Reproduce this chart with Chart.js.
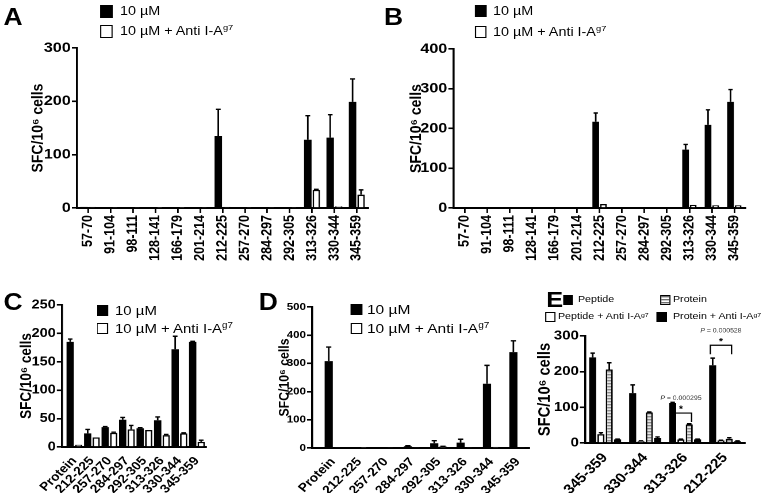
<!DOCTYPE html>
<html>
<head>
<meta charset="utf-8">
<script src="https://cdn.jsdelivr.net/npm/chart.js@4.4.0/dist/chart.umd.min.js"></script>
<style>
  body { margin: 0; background: #fff; overflow: hidden; }
  /* the source figure is stretched horizontally, so the whole layout is drawn narrow and widened */
  #fig { position: relative; width: 666px; height: 493px; transform: scaleX(1.15); transform-origin: 0 0;
         font-family: "Liberation Sans", Arial, sans-serif; color: #000; }
  .panel { position: absolute; }
  .letter { position: absolute; font-weight: bold; font-size: 23px; line-height: 1; }
  .sw { position: absolute; box-sizing: border-box; border: 1.4px solid #000; }
  .lt { position: absolute; white-space: nowrap; line-height: 1; }
  .lt sup { font-size: 0.65em; position: relative; top: -0.1em; vertical-align: top; line-height: 1; }
</style>
</head>
<body>
<div id="fig">
  <div class="letter" style="left:3px;top:6px">A</div>
  <div class="letter" style="left:334px;top:6px">B</div>
  <div class="letter" style="left:3px;top:291px">C</div>
  <div class="letter" style="left:225px;top:291px">D</div>
  <div class="letter" style="left:475px;top:289px;font-size:22px">E</div>
  <div class="panel" style="left:0;top:0"><canvas id="chartA" width="330" height="268"></canvas></div>
  <div class="panel" style="left:330.4px;top:0"><canvas id="chartB" width="335" height="268"></canvas></div>
  <div class="panel" style="left:0;top:275px"><canvas id="chartC" width="228" height="218"></canvas></div>
  <div class="panel" style="left:227.8px;top:275px"><canvas id="chartD" width="235" height="218"></canvas></div>
  <div class="panel" style="left:460.9px;top:275px"><canvas id="chartE" width="205" height="218"></canvas></div>
</div>
<script>
const FONT = '"Liberation Sans", Arial, sans-serif';

// peptide screen, panels A and B
const peptideLabels = ['57-70', '91-104', '98-111', '128-141', '166-179', '201-214', '212-225',
                       '257-270', '284-297', '292-305', '313-326', '330-344', '345-359'];
const seriesNames = ['10 µM', '10 µM + Anti I-A^g7'];

const aMean    = [2, 0.5, 1, 0.5, 1, 0.5, 135, 1, 1, 1, 128, 132, 199];
const aMeanErr = [0, 0, 0, 0, 0, 0, 50, 0, 0, 0, 45, 43, 43];
const aAnti    = [2, 1, 1, 0.5, 0.5, 1, 2, 1, 1, 1, 34, 3, 25];
const aAntiErr = [0, 0, 0, 0, 0, 0, 0, 0, 0, 0, 1, 0, 9];

const bMean    = [0, 0, 0, 0, 0, 0, 217, 0, 0.8, 0, 147, 209, 267];
const bMeanErr = [0, 0, 0, 0, 0, 0, 22, 0, 0, 0, 13, 38, 31];
const bAnti    = [0, 0, 0, 0, 0, 0, 10, 0, 0, 0, 8, 7, 7];
const bAntiErr = [0, 0, 0, 0, 0, 0, 0, 0, 0, 0, 0, 0, 0];

// protein vs peptides, panels C and D
const proteinLabels = ['Protein', '212-225', '257-270', '284-297', '292-305', '313-326', '330-344', '345-359'];

const cMean    = [185, 24, 35, 48, 33, 47, 172, 185];
const cMeanErr = [5, 7, 1, 4, 1, 6, 23, 1];
const cAnti    = [4, 17, 25, 31, 30, 21, 24, 9];
const cAntiErr = [0, 0, 1, 7, 0, 1, 1, 3];

const dMean    = [308, 3, 3, 6, 17, 19, 228, 340];
const dMeanErr = [50, 0, 0, 2, 9, 12, 65, 40];
const dAnti    = [2, 1, 3, 2, 5, 2, 4, 3];
const dAntiErr = [0, 0, 0, 0, 1, 0, 0, 0];

// panel E
const eLabels = ['345-359', '330-344', '313-326', '212-225'];
const eNames = ['Peptide', 'Peptide + Anti I-A^g7', 'Protein', 'Protein + Anti I-A^g7'];
const ePeptide     = [240, 140, 112, 218];
const ePeptideErr  = [12, 23, 2, 20];
const ePepAnti     = [25, 5, 10, 7];
const ePepAntiErr  = [4, 1, 1, 1];
const eProtein     = [206, 86, 52, 12];
const eProteinErr  = [19, 1, 2, 3];
const eProtAnti    = [10, 14, 10, 5];
const eProtAntiErr = [1, 3, 1, 1];
const eSigCats   = [2, 3];
const eSigLevels = [84, 274];
const eSigText   = ['0.000295', '0.000528'];

Chart.defaults.font.family = FONT;
Chart.defaults.color = '#000';

function stripes() {
  const c = document.createElement('canvas');
  c.width = 4; c.height = 3;
  const x = c.getContext('2d');
  x.fillStyle = '#fff'; x.fillRect(0, 0, 4, 3);
  x.fillStyle = '#6e6e6e'; x.fillRect(0, 0, 4, 1);
  x.fillStyle = '#c8c8c8'; x.fillRect(0, 1, 4, 1);
  return x.createPattern(c, 'repeat');
}

const STYLES = {
  black:  { backgroundColor: '#000', borderColor: '#000', borderWidth: 0 },
  white:  { backgroundColor: '#fff', borderColor: '#000', borderWidth: 1.4 },
  stripe: { backgroundColor: stripes(), borderColor: '#000', borderWidth: 1.4 }
};

// draws mean + SEM caps from each dataset's errors array
const errorBars = {
  id: 'errorBars',
  afterDatasetsDraw(chart) {
    const { ctx, scales: { y } } = chart;
    chart.data.datasets.forEach((ds, i) => {
      if (!ds.errors) return;
      chart.getDatasetMeta(i).data.forEach((bar, j) => {
        const e = ds.errors[j];
        if (!e) return;
        const top = y.getPixelForValue(ds.data[j] + e);
        const half = bar.width * 0.32;
        ctx.save();
        ctx.strokeStyle = '#000';
        ctx.lineWidth = 1.4;
        ctx.beginPath();
        ctx.moveTo(bar.x, bar.y);
        ctx.lineTo(bar.x, top);
        ctx.moveTo(bar.x - half, top);
        ctx.lineTo(bar.x + half, top);
        ctx.stroke();
        ctx.restore();
      });
    });
  }
};

// significance brackets between peptide and protein bars (panel E)
const sigBrackets = {
  id: 'sigBrackets',
  afterDatasetsDraw(chart, args, opts) {
    if (!opts.cats) return;
    const { ctx, scales: { y } } = chart;
    const pep = chart.getDatasetMeta(0).data;
    const prot = chart.getDatasetMeta(2).data;
    opts.cats.forEach((c, k) => {
      const x1 = pep[c].x - 2, x2 = prot[c].x + 2;
      const yt = y.getPixelForValue(opts.levels[k]);
      const mid = (x1 + x2) / 2;
      ctx.save();
      ctx.strokeStyle = '#000';
      ctx.lineWidth = 1.2;
      ctx.beginPath();
      ctx.moveTo(x1, yt + 9); ctx.lineTo(x1, yt); ctx.lineTo(x2, yt); ctx.lineTo(x2, yt + 9);
      ctx.stroke();
      ctx.fillStyle = '#000';
      ctx.textAlign = 'center';
      ctx.font = 'bold 9px ' + FONT;
      ctx.fillText('*', mid, yt - 1);
      ctx.fillStyle = '#333';
      ctx.textAlign = 'left';
      ctx.font = 'italic 6px ' + FONT;
      const pw = ctx.measureText('P').width;
      ctx.font = '6px ' + FONT;
      const rest = ' = ' + opts.texts[k];
      const w = pw + ctx.measureText(rest).width;
      const x0 = mid - w / 2;
      ctx.font = 'italic 6px ' + FONT;
      ctx.fillText('P', x0, yt - 13);
      ctx.font = '6px ' + FONT;
      ctx.fillText(rest, x0 + pw, yt - 13);
      ctx.restore();
    });
  }
};

function barPanel(id, labels, series, g) {
  const datasets = series.map(s => Object.assign({
    data: s.data,
    errors: s.errors,
    categoryPercentage: g.cat,
    barPercentage: g.bar,
    borderSkipped: 'start'
  }, STYLES[s.style]));
  return new Chart(document.getElementById(id), {
    type: 'bar',
    data: { labels: labels, datasets: datasets },
    plugins: [errorBars, sigBrackets],
    options: {
      responsive: false,
      animation: false,
      devicePixelRatio: 2,
      layout: { padding: { top: g.top, right: g.right, left: 0, bottom: 0 } },
      plugins: {
        legend: { display: false },
        tooltip: { enabled: false },
        sigBrackets: g.sig || {}
      },
      scales: {
        x: {
          offset: true,
          grid: { display: g.xTicks, drawOnChartArea: false, offset: false, tickLength: 5, color: '#000', lineWidth: 1.4 },
          border: { color: '#000', width: 2 },
          ticks: { color: '#000', font: { weight: 'bold', size: g.xFont }, minRotation: g.rot, maxRotation: g.rot, autoSkip: false, padding: 2 },
          afterBuildTicks: s => {
            if (g.gapL || g.gapR) {
              s._startValue -= (g.gapL || 0);
              s._valueRange += (g.gapL || 0) + (g.gapR || 0);
            }
          },
          afterFit: s => { s.height = g.xH; }
        },
        y: {
          min: 0,
          max: g.yMax,
          ticks: { stepSize: g.step, color: '#000', font: { weight: 'bold', size: g.yFont }, padding: 1 },
          grid: { drawOnChartArea: false, tickLength: 4.5, color: '#000', lineWidth: 1.6 },
          border: { color: '#000', width: 1.8 },
          title: {
            display: true,
            text: 'SFC/10⁶ cells',
            color: '#000',
            font: { weight: 'bold', size: g.titleFont },
            padding: { top: g.titlePad, bottom: 0 }
          },
          afterFit: s => { s.width = g.yW; }
        }
      }
    }
  });
}

barPanel('chartA', peptideLabels, [
  { data: aMean, errors: aMeanErr, style: 'black' },
  { data: aAnti, errors: aAntiErr, style: 'white' }
], { yMax: 300, step: 100, yW: 67, xH: 60, top: 48, right: 10, titlePad: 24.6,
     yFont: 14, xFont: 12.5, titleFont: 14, rot: 90, xTicks: true, cat: 0.76, bar: 0.88 });

barPanel('chartB', peptideLabels, [
  { data: bMean, errors: bMeanErr, style: 'black' },
  { data: bAnti, errors: bAntiErr, style: 'white' }
], { yMax: 400, step: 100, yW: 64.4, xH: 60, top: 49, right: 16.7, titlePad: 23.8,
     yFont: 14, xFont: 12.5, titleFont: 14, rot: 90, xTicks: true, cat: 0.68, bar: 0.88 });

barPanel('chartC', proteinLabels, [
  { data: cMean, errors: cMeanErr, style: 'black' },
  { data: cAnti, errors: cAntiErr, style: 'white' }
], { yMax: 250, step: 50, yW: 53.9, xH: 46, top: 30, right: 49, titlePad: 15.4,
     yFont: 12.5, xFont: 12, titleFont: 13.5, rot: 48, xTicks: false, cat: 0.97, bar: 0.86, gapL: 0.21, gapR: 0.01 });

barPanel('chartD', proteinLabels, [
  { data: dMean, errors: dMeanErr, style: 'black' },
  { data: dAnti, errors: dAntiErr, style: 'white' }
], { yMax: 500, step: 100, yW: 43.5, xH: 45, top: 32, right: 1.9, titlePad: 12.3,
     yFont: 10, xFont: 12, titleFont: 12.3, rot: 48, xTicks: false, cat: 0.66, bar: 0.94, gapL: 0.29, gapR: -0.07 });

barPanel('chartE', eLabels, [
  { data: ePeptide, errors: ePeptideErr, style: 'black' },
  { data: ePepAnti, errors: ePepAntiErr, style: 'white' },
  { data: eProtein, errors: eProteinErr, style: 'stripe' },
  { data: eProtAnti, errors: eProtAntiErr, style: 'black' }
], { yMax: 300, step: 100, yW: 47.8, xH: 50, top: 61, right: 18.1, titlePad: 4.2,
     yFont: 13, xFont: 13.5, titleFont: 14.7, rot: 48, xTicks: false, cat: 0.83, bar: 0.85,
     sig: { cats: eSigCats, levels: eSigLevels, texts: eSigText } });

// html legends (x in unstretched units, swatches narrowed so they end up square)
const fig = document.getElementById('fig');
const SX = 1.15;
function legendItem(x, y, size, tx, fontSize, name, kind) {
  const sw = document.createElement('div');
  sw.className = 'sw';
  sw.style.cssText = `left:${x}px;top:${y}px;width:${size / SX}px;height:${size}px;`;
  if (kind === 'black') sw.style.background = '#000';
  else if (kind === 'stripe') sw.style.background = 'repeating-linear-gradient(#6e6e6e 0 1px, #c8c8c8 1px 2px, #fff 2px 3px)';
  else sw.style.background = '#fff';
  fig.appendChild(sw);
  const t = document.createElement('div');
  t.className = 'lt';
  t.style.cssText = `left:${tx}px;top:${y + size / 2 - fontSize * 0.5}px;font-size:${fontSize}px;`;
  t.innerHTML = name.replace(/\^(\w+)/, '<sup>$1</sup>');
  fig.appendChild(t);
}

legendItem(87, 5, 13, 104.3, 12.5, seriesNames[0], 'black');
legendItem(87, 25, 13, 104.3, 12.5, seriesNames[1], 'white');
legendItem(413, 5, 12, 428.7, 12.5, seriesNames[0], 'black');
legendItem(413, 26, 12, 428.7, 12.5, seriesNames[1], 'white');
legendItem(84.3, 305, 11, 100, 13, seriesNames[0], 'black');
legendItem(84.3, 323, 11, 100, 13, seriesNames[1], 'white');
legendItem(305.2, 304, 11, 319.1, 13.5, seriesNames[0], 'black');
legendItem(305.2, 323, 11, 319.1, 13.5, seriesNames[1], 'white');
legendItem(489.6, 295, 10, 502.6, 9.3, eNames[0], 'black');
legendItem(473.9, 312, 10, 485.2, 9.3, eNames[1], 'white');
legendItem(573.9, 295, 10, 585.2, 9.3, eNames[2], 'stripe');
legendItem(571.3, 312, 10, 585.2, 9.3, eNames[3], 'black');
</script>
</body>
</html>
